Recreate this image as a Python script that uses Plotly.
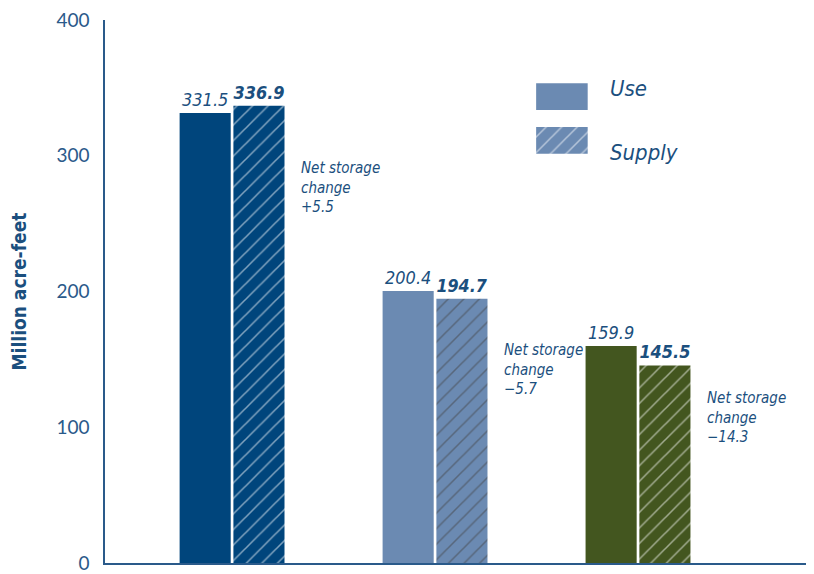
import plotly.graph_objects as go

categories = ["A", "B", "C"]
use_values = [331.5, 200.4, 159.9]
supply_values = [336.9, 194.7, 145.5]
net_change_labels = ["+5.5", "\u22125.7", "\u221214.3"]
note_y = [299, 165, 130]
bar_colors = ["#00457c", "#6b8ab2", "#43561f"]
y_ticks = [0, 100, 200, 300, 400]

TEXT = "#1b4f7e"
NARROW = "DejaVu Sans Condensed, Roboto, sans-serif"

x_pos = list(range(len(categories)))

fig = go.Figure()
fig.add_trace(go.Bar(
    x=x_pos, y=use_values, name="Use",
    marker=dict(color=bar_colors, line=dict(width=0)),
    texttemplate="%{y:.1f}", textposition="outside", cliponaxis=False,
    textfont=dict(family=NARROW, size=18, color=TEXT, style="italic"),
    showlegend=False,
))
fig.add_trace(go.Bar(
    x=x_pos, y=supply_values, name="Supply",
    marker=dict(color=bar_colors, line=dict(width=0),
                pattern=dict(shape="/", fillmode="overlay", fgcolor="white",
                             size=11, solidity=0.14)),
    texttemplate="<b>%{y:.1f}</b>", textposition="outside", cliponaxis=False,
    textfont=dict(family=NARROW, size=18, color=TEXT, style="italic"),
    showlegend=False,
))

# legend swatches drawn on a small overlay axis
legend_names = ["Supply", "Use"]
fig.add_trace(go.Bar(
    y=["Use"], x=[1], orientation="h", xaxis="x2", yaxis="y2",
    width=0.61, offset=-0.305,
    marker=dict(color="#6b8ab2", line=dict(width=0)), showlegend=False, hoverinfo="skip",
))
fig.add_trace(go.Bar(
    y=["Supply"], x=[1], orientation="h", xaxis="x2", yaxis="y2",
    width=0.61, offset=-0.305,
    marker=dict(color="#6b8ab2", line=dict(width=0),
                pattern=dict(shape="/", fillmode="overlay", fgcolor="white",
                             size=11, solidity=0.14)),
    showlegend=False, hoverinfo="skip",
))

annotations = []
for i, (lbl, ny) in enumerate(zip(net_change_labels, note_y)):
    annotations.append(dict(
        x=i + 0.33, y=ny, xref="x", yref="y", xanchor="left", yanchor="top",
        text=f"Net storage<br>change<br>{lbl}", showarrow=False, align="left",
        font=dict(family=NARROW, size=15, color=TEXT, style="italic"),
    ))
annotations.append(dict(x=0.709, y=0.873, xref="paper", yref="paper", xanchor="left",
                        yanchor="middle", text="Use", showarrow=False,
                        font=dict(family=NARROW, size=22, color=TEXT, style="italic")))
annotations.append(dict(x=0.709, y=0.756, xref="paper", yref="paper", xanchor="left",
                        yanchor="middle", text="Supply", showarrow=False,
                        font=dict(family=NARROW, size=22, color=TEXT, style="italic")))

fig.update_layout(
    width=806, height=566,
    margin=dict(l=97, r=0, t=7, b=6),
    paper_bgcolor="white", plot_bgcolor="white",
    barmode="group", bargap=0.47, bargroupgap=0.05,
    annotations=annotations,
    xaxis=dict(range=[-0.626, 2.867], showticklabels=False, ticks="",
               showgrid=False, zeroline=False, showline=True,
               linecolor="#2a5a8a", linewidth=1.5, fixedrange=True),
    yaxis=dict(range=[0, 400], tickvals=y_ticks, showgrid=False, zeroline=False,
               showline=True, linecolor="#2a5a8a", linewidth=1.5, ticks="",
               ticklabelstandoff=10, ticklabeloverflow="allow",
               tickfont=dict(family="Lato, DejaVu Sans, sans-serif", size=19, color="#2a5a8a"),
               title=dict(text="<b>Million acre-feet</b>", standoff=26,
                          font=dict(family=NARROW, size=19, color=TEXT))),
    xaxis2=dict(domain=[0.608, 0.681], anchor="y2", range=[0, 1], visible=False, fixedrange=True),
    yaxis2=dict(domain=[0.738, 0.899], anchor="x2", type="category",
                categoryorder="array", categoryarray=legend_names,
                range=[-0.5, 1.5], visible=False, fixedrange=True),
)

fig.write_html("out.html")
